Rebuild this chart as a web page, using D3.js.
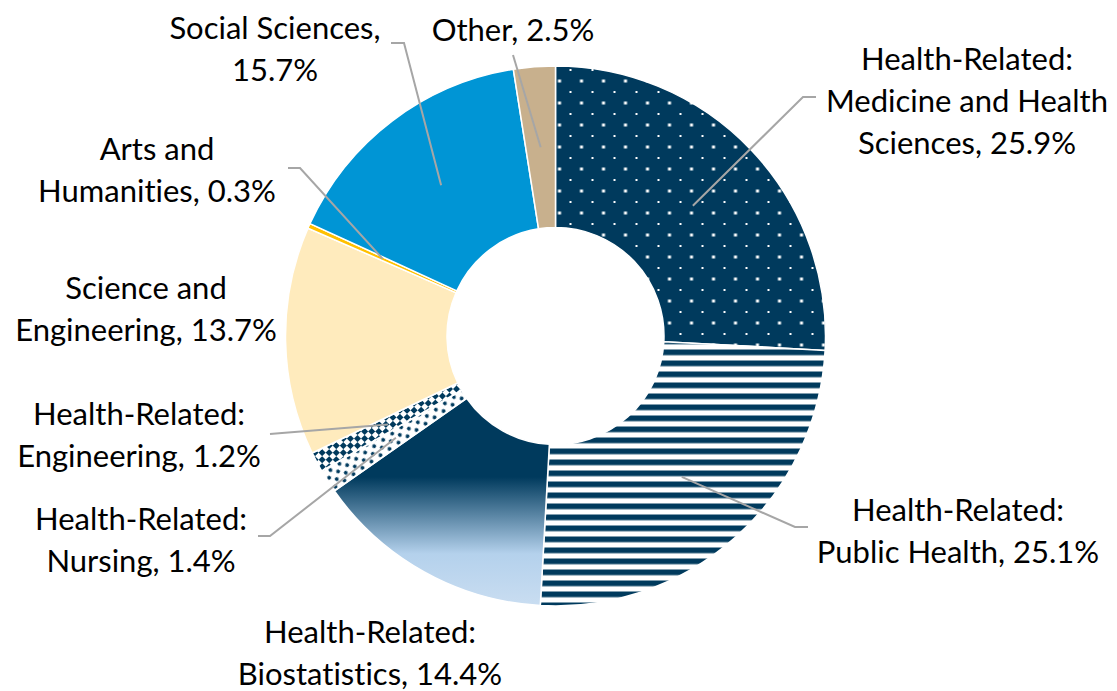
<!DOCTYPE html>
<html>
<head>
<meta charset="utf-8">
<script src="https://cdn.jsdelivr.net/npm/d3@7"></script>
<style>
  body { margin: 0; background: #fff; }
  svg { display: block; }
</style>
</head>
<body>
<div id="chart"></div>
<script>
// ==================================================
// Data
// ==================================================
const categories = [
  "Health-Related:\nMedicine and Health\nSciences",
  "Health-Related:\nPublic Health",
  "Health-Related:\nBiostatistics",
  "Health-Related:\nNursing",
  "Health-Related:\nEngineering",
  "Science and\nEngineering",
  "Arts and\nHumanities",
  "Social Sciences",
  "Other"
];
const shares = [25.9, 25.1, 14.4, 1.4, 1.2, 13.7, 0.3, 15.7, 2.5];
const fills = [
  "url(#dots-white)",
  "url(#stripes)",
  "url(#grad-bio)",
  "url(#dots-navy)",
  "url(#checker)",
  "#FFEBBD",
  "#FFC000",
  "#0095D5",
  "#C8B08D"
];

// label layout: centre of first line, optional elbow + end of leader line
const labelLayout = [
  { x: 967, y: 58, elbow: [803, 97], end: [816, 97] },
  { x: 958, y: 509, elbow: [795, 527], end: [808, 527] },
  { x: 370, y: 631, elbow: null },
  { x: 141, y: 518, elbow: [270, 536], end: [258, 536] },
  { x: 139, y: 413, elbow: [282, 433], end: [270, 434] },
  { x: 146, y: 287, elbow: null },
  { x: 157, y: 148, elbow: [300, 168], end: [288, 168] },
  { x: 275, y: 27, elbow: [404, 43], end: [391, 43], breakBeforeValue: true },
  { x: 513, y: 29, elbow: [513, 55], end: [513, 55] }
];

const W = 1117, H = 691;
const cx = 555.5, cy = 336;
const outerR = 270, innerR = 108.5;
const navy = "#003A5D";
const lineH = 42;

const svg = d3.select("#chart").append("svg")
  .attr("width", W).attr("height", H);

// ==================================================
// Patterns & gradient
// ==================================================
const defs = svg.append("defs");

const pDots = defs.append("pattern")
  .attr("id", "dots-white")
  .attr("patternUnits", "userSpaceOnUse")
  .attr("width", 22).attr("height", 22);
pDots.append("rect").attr("width", 22).attr("height", 22).attr("fill", navy);
pDots.append("rect").attr("x", 2.5).attr("y", 7.5).attr("width", 3).attr("height", 3).attr("fill", "#fff");
pDots.append("rect").attr("x", 14).attr("y", 19).attr("width", 2).attr("height", 2).attr("fill", "#fff");

const pStripes = defs.append("pattern")
  .attr("id", "stripes")
  .attr("patternUnits", "userSpaceOnUse")
  .attr("width", 11).attr("height", 11)
  .attr("y", 354.5);
pStripes.append("rect").attr("width", 11).attr("height", 11).attr("fill", "#fff");
pStripes.append("rect").attr("width", 11).attr("height", 5.7).attr("fill", navy);

const pNavyDots = defs.append("pattern")
  .attr("id", "dots-navy")
  .attr("patternUnits", "userSpaceOnUse")
  .attr("width", 11).attr("height", 11)
  .attr("patternTransform", "rotate(-35)");
pNavyDots.append("rect").attr("width", 11).attr("height", 11).attr("fill", "#fff");
pNavyDots.append("circle").attr("cx", 2.75).attr("cy", 2.75).attr("r", 1.9).attr("fill", navy);
pNavyDots.append("circle").attr("cx", 8.25).attr("cy", 8.25).attr("r", 1.9).attr("fill", navy);

const pChecker = defs.append("pattern")
  .attr("id", "checker")
  .attr("patternUnits", "userSpaceOnUse")
  .attr("width", 10).attr("height", 10)
  .attr("patternTransform", "rotate(45)");
pChecker.append("rect").attr("width", 10).attr("height", 10).attr("fill", "#fff");
pChecker.append("rect").attr("width", 5).attr("height", 5).attr("fill", navy);
pChecker.append("rect").attr("x", 5).attr("y", 5).attr("width", 5).attr("height", 5).attr("fill", navy);

const grad = defs.append("linearGradient")
  .attr("id", "grad-bio")
  .attr("x1", 0).attr("y1", 0).attr("x2", 0).attr("y2", 1);
[
  { o: 0, c: navy },
  { o: 0.38, c: navy },
  { o: 0.75, c: "#B4D1EC" },
  { o: 1, c: "#C9DDF1" }
].forEach(s => grad.append("stop").attr("offset", s.o).attr("stop-color", s.c));

// ==================================================
// Donut
// ==================================================
const pie = d3.pie().sort(null).value(d => d)
  .startAngle(0).endAngle(2 * Math.PI);
const arcs = pie(shares);

const arc = d3.arc().innerRadius(innerR).outerRadius(outerR);

const g = svg.append("g").attr("transform", `translate(${cx},${cy})`);

g.selectAll("path.slice")
  .data(arcs)
  .join("path")
  .attr("class", "slice")
  .attr("d", arc)
  .attr("fill", (d, i) => fills[i])
  .attr("stroke", "#fff")
  .attr("stroke-width", 1.5);

// ==================================================
// Leader lines
// ==================================================
arcs.forEach((d, i) => {
  const L = labelLayout[i];
  if (!L.elbow) return;
  const c = arc.centroid(d);
  const pts = [[c[0] + cx, c[1] + cy], L.elbow, L.end];
  svg.append("path")
    .attr("d", d3.line()(pts))
    .attr("fill", "none")
    .attr("stroke", "#A6A6A6")
    .attr("stroke-width", 2);
});

// ==================================================
// Labels
// ==================================================
arcs.forEach((d, i) => {
  const L = labelLayout[i];
  const pct = `${shares[i].toFixed(1)}%`;
  let lines = categories[i].split("\n");
  if (L.breakBeforeValue) {
    lines[lines.length - 1] += ",";
    lines.push(pct);
  } else {
    lines[lines.length - 1] += `, ${pct}`;
  }
  const t = svg.append("text")
    .attr("text-anchor", "middle")
    .style("font-family", "Lato, 'Liberation Sans', sans-serif")
    .style("font-size", "31px")
    .style("font-variant-ligatures", "none")
    .style("fill", "#000");
  lines.forEach((ln, k) => {
    t.append("tspan")
      .attr("x", L.x)
      .attr("y", L.y + k * lineH)
      .attr("dominant-baseline", "central")
      .text(ln);
  });
});
</script>
</body>
</html>
